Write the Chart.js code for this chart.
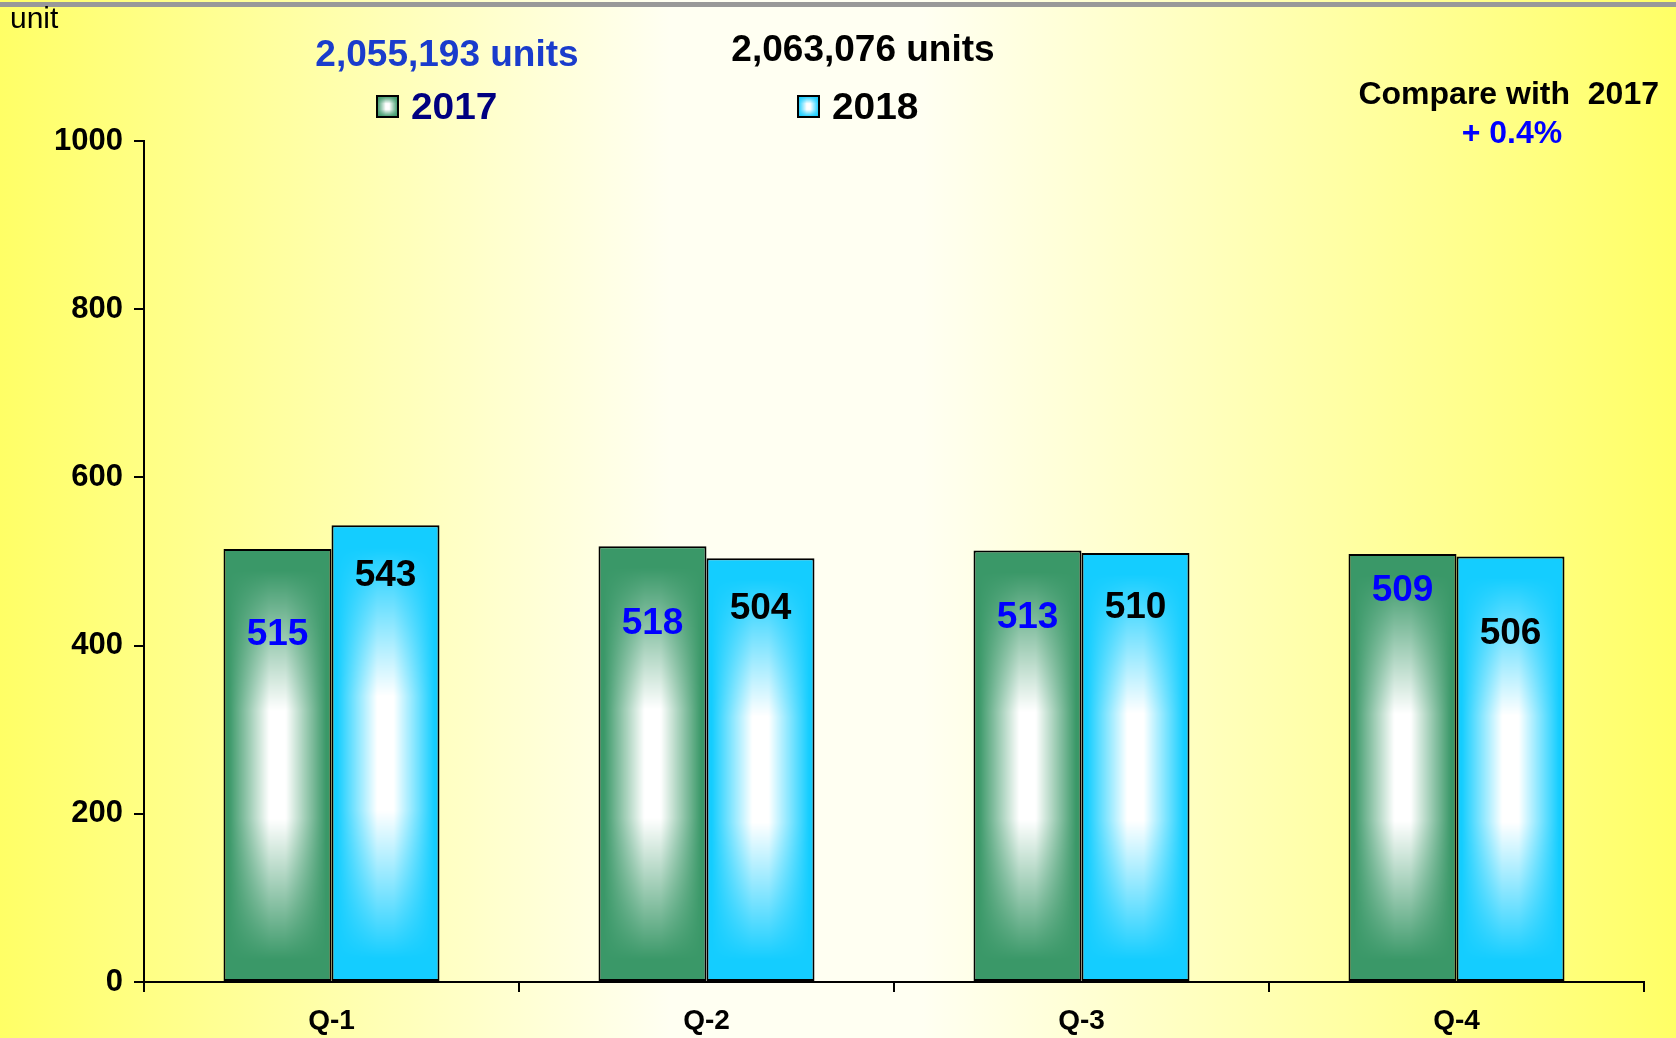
<!DOCTYPE html>
<html>
<head>
<meta charset="utf-8">
<script src="https://cdn.jsdelivr.net/npm/chart.js@4/dist/chart.umd.min.js"></script>
<style>
  body { margin: 0; background: #fff; }
  #c { display: block; }
</style>
</head>
<body>
<canvas id="c" width="1676" height="1038"></canvas>
<script>
// data
const quarters = ['Q-1', 'Q-2', 'Q-3', 'Q-4'];
const seriesNames = ['2017', '2018'];
const sales2017 = [515, 518, 513, 509];
const sales2018 = [543, 504, 510, 506];
const yTicks = [0, 200, 400, 600, 800, 1000];
const yearTotals = ['2,055,193 units', '2,063,076 units'];
const changeLabel = 'Compare with  2017';
const changeValue = '+ 0.4%';

// how far (px) below the bar top each value label sits, as in the picture
const labelDrop2017 = [83, 75, 64, 34];
const labelDrop2018 = [48, 48, 52, 75];

const FONT = '"Liberation Sans", Arial, sans-serif';
const darkGreen = [58, 152, 104];
const darkCyan = [20, 205, 255];

function clamp01(v) { return Math.min(1, Math.max(0, v)); }

// "from centre" gradient: white in the middle, dark at every edge
function rectGradientCanvas(w, h, rgb) {
  const cw = Math.max(1, Math.round(w)), chh = Math.max(1, Math.round(h));
  const off = document.createElement('canvas');
  off.width = cw; off.height = chh;
  const g = off.getContext('2d');
  const img = g.createImageData(cw, chh);
  for (let y = 0; y < chh; y++) {
    const ty = Math.abs((y + 0.5) / chh * 2 - 1);
    const sy = clamp01((ty - 0.25) / 0.65);
    for (let x = 0; x < cw; x++) {
      const tx = Math.abs((x + 0.5) / cw * 2 - 1);
      const sx = clamp01((tx - 0.15) / 0.75);
      const s = 1 - (1 - sx) * (1 - sy);
      const i = (y * cw + x) * 4;
      img.data[i] = 255 + (rgb[0] - 255) * s;
      img.data[i + 1] = 255 + (rgb[1] - 255) * s;
      img.data[i + 2] = 255 + (rgb[2] - 255) * s;
      img.data[i + 3] = 255;
    }
  }
  g.putImageData(img, 0, 0);
  return off;
}

function rectFill(ctx, left, top, w, h, rgb) {
  const pat = ctx.createPattern(rectGradientCanvas(w, h, rgb), 'no-repeat');
  pat.setTransform(new DOMMatrix().translate(left, top));
  return pat;
}

// text stretched a little wider, like the legend words in the picture
function wideText(ctx, text, x, y, sx) {
  ctx.save();
  ctx.translate(x, y);
  ctx.scale(sx, 1);
  ctx.fillText(text, 0, 0);
  ctx.restore();
}

const backgroundPlugin = {
  id: 'background',
  beforeDraw(chart) {
    const ctx = chart.ctx, W = chart.width, H = chart.height;
    const grad = ctx.createLinearGradient(0, 0, W, 0);
    grad.addColorStop(0, '#ffff66');
    grad.addColorStop(0.4, '#fffff2');
    grad.addColorStop(0.55, '#fffff2');
    grad.addColorStop(1, '#ffff66');
    ctx.save();
    ctx.fillStyle = grad;
    ctx.fillRect(0, 0, W, H);
    ctx.fillStyle = '#999999';
    ctx.fillRect(0, 2, W, 5);
    ctx.restore();
  }
};

// give every bar its own gradient fill, sized to the bar the library laid out
const barFillPlugin = {
  id: 'barFill',
  beforeDatasetsDraw(chart) {
    const ctx = chart.ctx;
    chart.data.datasets.forEach((ds, di) => {
      const meta = chart.getDatasetMeta(di);
      meta.data.forEach(bar => {
        const p = bar.getProps(['x', 'y', 'base', 'width'], true);
        const left = p.x - p.width / 2;
        const top = Math.min(p.y, p.base);
        const h = Math.abs(p.base - p.y);
        if (!Object.isFrozen(bar.options)) {
          bar.options.backgroundColor = rectFill(ctx, left, top, p.width, h, ds.rgb);
        }
      });
    });
  }
};

const labelsPlugin = {
  id: 'labels',
  afterDatasetsDraw(chart) {
    const ctx = chart.ctx;
    const drops = [labelDrop2017, labelDrop2018];
    const colours = ['#0000ff', '#000000'];
    ctx.save();
    ctx.font = 'bold 37px ' + FONT;
    ctx.textAlign = 'center';
    ctx.textBaseline = 'alphabetic';
    chart.data.datasets.forEach((ds, di) => {
      chart.getDatasetMeta(di).data.forEach((bar, i) => {
        ctx.fillStyle = colours[di];
        ctx.fillText(String(ds.data[i]), bar.x, bar.y + drops[di][i] + 13);
      });
    });

    // header texts
    ctx.font = '30px ' + FONT;
    ctx.textAlign = 'left';
    ctx.fillStyle = '#000';
    ctx.fillText('unit', 10, 28);

    ctx.font = 'bold 37px ' + FONT;
    ctx.textAlign = 'center';
    ctx.fillStyle = '#1a3ccc';
    ctx.fillText(yearTotals[0], 447, 66);
    ctx.fillStyle = '#000';
    ctx.fillText(yearTotals[1], 863, 61);

    // legend
    const boxes = [[376, 95, darkGreen, '#000080'], [797, 95, darkCyan, '#000000']];
    ctx.font = 'bold 36px ' + FONT;
    ctx.textAlign = 'left';
    boxes.forEach((b, i) => {
      ctx.fillStyle = rectFill(ctx, b[0], b[1], 23, 23, b[2]);
      ctx.fillRect(b[0], b[1], 23, 23);
      ctx.lineWidth = 2;
      ctx.strokeStyle = '#000';
      ctx.strokeRect(b[0] + 1, b[1] + 1, 21, 21);
      ctx.fillStyle = b[3];
      wideText(ctx, seriesNames[i], b[0] + 35, 119, 1.08);
    });

    // comparison note
    ctx.font = 'bold 32px ' + FONT;
    ctx.textAlign = 'right';
    ctx.fillStyle = '#000';
    ctx.fillText(changeLabel, 1659, 104);
    ctx.textAlign = 'center';
    ctx.fillStyle = '#0000ff';
    ctx.fillText(changeValue, 1512, 143);
    ctx.restore();
  }
};

new Chart(document.getElementById('c'), {
  type: 'bar',
  data: {
    labels: quarters,
    datasets: [
      { label: seriesNames[0], data: sales2017, rgb: darkGreen },
      { label: seriesNames[1], data: sales2018, rgb: darkCyan }
    ].map(ds => Object.assign(ds, {
      backgroundColor: ctx => 'rgb(' + ds.rgb.join(',') + ')',
      borderColor: '#000',
      borderWidth: 2,
      borderSkipped: false,
      categoryPercentage: 0.576,
      barPercentage: 1.0
    }))
  },
  options: {
    responsive: false,
    devicePixelRatio: 1,
    animation: false,
    events: [],
    layout: { padding: { top: 141, right: 32, left: 0, bottom: 0 } },
    plugins: { legend: { display: false }, tooltip: { enabled: false } },
    scales: {
      x: {
        offset: true,
        grid: { offset: true, drawOnChartArea: false, drawTicks: true, tickLength: 10, color: '#000', lineWidth: 2 },
        border: { color: '#000', width: 2 },
        ticks: { color: '#000', font: { family: FONT, size: 28, weight: 'bold' }, padding: 12 },
        afterFit(scale) { scale.height = 56; }
      },
      y: {
        min: yTicks[0],
        max: yTicks[yTicks.length - 1],
        afterBuildTicks(scale) { scale.ticks = yTicks.map(v => ({ value: v })); },
        grid: { drawOnChartArea: false, drawTicks: true, tickLength: 10, color: '#000', lineWidth: 2 },
        border: { color: '#000', width: 2 },
        ticks: {
          color: '#000',
          font: { family: FONT, size: 31, weight: 'bold' },
          padding: 11,
          callback: v => String(v)
        },
        afterFit(scale) { scale.width = 144; }
      }
    }
  },
  plugins: [backgroundPlugin, barFillPlugin, labelsPlugin]
});
</script>
</body>
</html>
